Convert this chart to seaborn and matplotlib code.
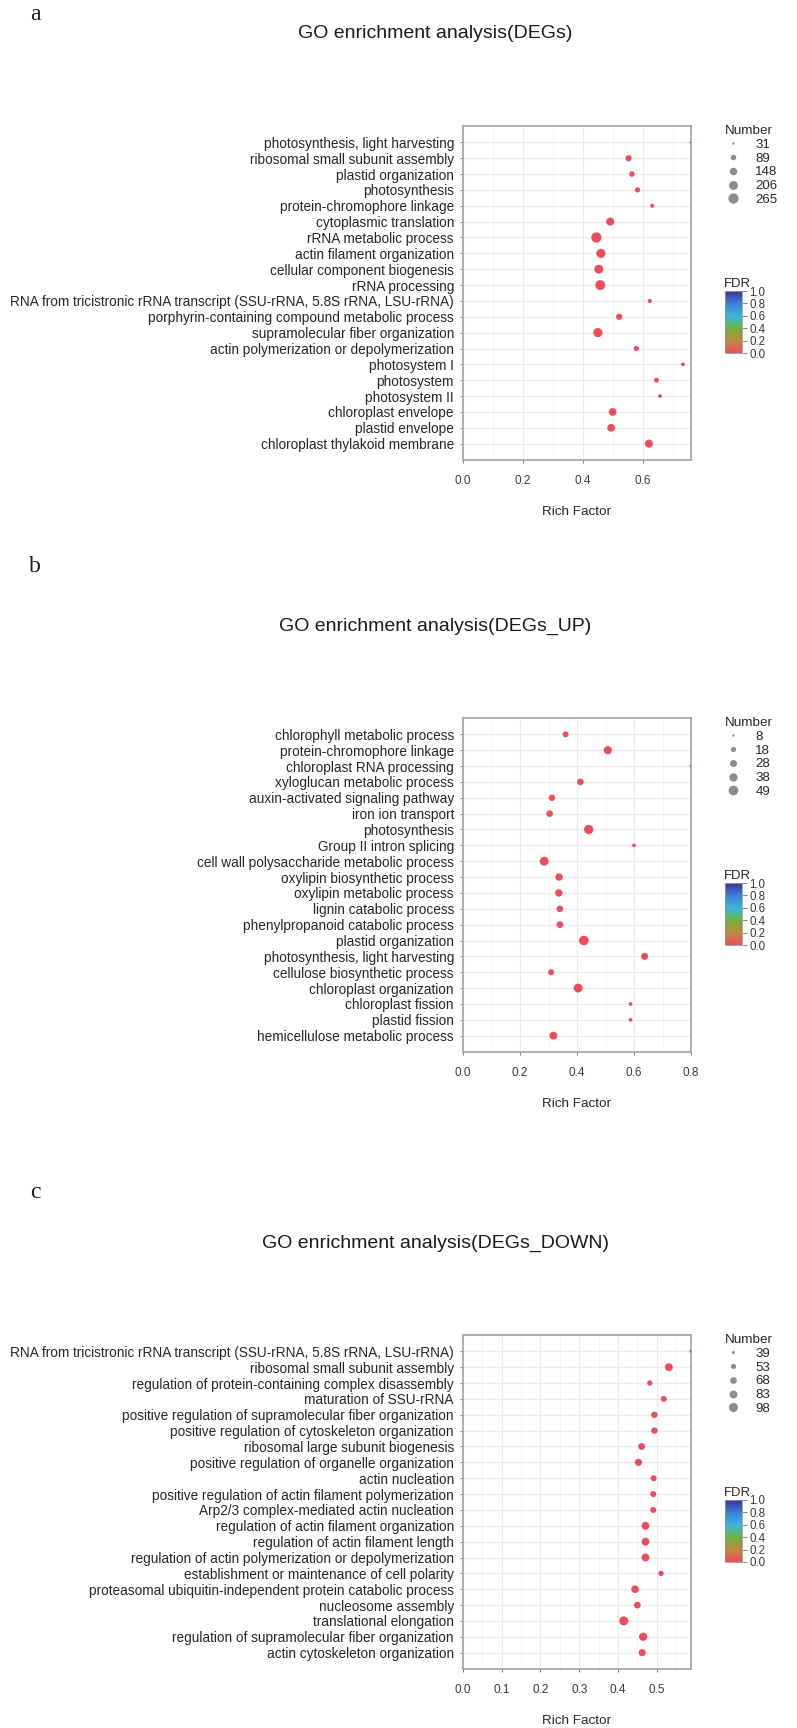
import numpy as np
import pandas as pd
import matplotlib
matplotlib.use("Agg")
import matplotlib.pyplot as plt
import seaborn as sns
from matplotlib.colors import LinearSegmentedColormap, Normalize
from matplotlib.lines import Line2D
from matplotlib.cm import ScalarMappable

# ---------------- data ----------------
a_terms = ["photosynthesis, light harvesting", "ribosomal small subunit assembly", "plastid organization",
           "photosynthesis", "protein-chromophore linkage", "cytoplasmic translation", "rRNA metabolic process",
           "actin filament organization", "cellular component biogenesis", "rRNA processing",
           "RNA from tricistronic rRNA transcript (SSU-rRNA, 5.8S rRNA, LSU-rRNA)",
           "porphyrin-containing compound metabolic process", "supramolecular fiber organization",
           "actin polymerization or depolymerization", "photosystem I", "photosystem", "photosystem II",
           "chloroplast envelope", "plastid envelope", "chloroplast thylakoid membrane"]
a_rich = [0.759, 0.551, 0.562, 0.581, 0.630, 0.490, 0.444, 0.459, 0.452, 0.457,
          0.622, 0.520, 0.449, 0.577, 0.732, 0.644, 0.656, 0.498, 0.493, 0.619]
a_number = [31, 110, 90, 81, 57, 171, 265, 215, 205, 247,
            57, 110, 215, 81, 51, 72, 51, 157, 157, 171]
a_fdr = [0.0] * 20
a_breaks = [31, 89, 148, 206, 265]
a_xticks = [0.0, 0.2, 0.4, 0.6]
a_title = "GO enrichment analysis(DEGs)"

b_terms = ["chlorophyll metabolic process", "protein-chromophore linkage", "chloroplast RNA processing",
           "xyloglucan metabolic process", "auxin-activated signaling pathway", "iron ion transport",
           "photosynthesis", "Group II intron splicing", "cell wall polysaccharide metabolic process",
           "oxylipin biosynthetic process", "oxylipin metabolic process", "lignin catabolic process",
           "phenylpropanoid catabolic process", "plastid organization", "photosynthesis, light harvesting",
           "cellulose biosynthetic process", "chloroplast organization", "chloroplast fission",
           "plastid fission", "hemicellulose metabolic process"]
b_rich = [0.360, 0.508, 0.800, 0.412, 0.312, 0.304, 0.441, 0.600, 0.285, 0.337,
          0.336, 0.340, 0.340, 0.424, 0.637, 0.309, 0.404, 0.588, 0.588, 0.317]
b_number = [22, 37, 8, 26, 24, 26, 46, 12, 43, 31,
            31, 26, 26, 49, 29, 22, 43, 12, 12, 34]
b_fdr = [0.0] * 20
b_breaks = [8, 18, 28, 38, 49]
b_xticks = [0.0, 0.2, 0.4, 0.6, 0.8]
b_title = "GO enrichment analysis(DEGs_UP)"

c_terms = ["RNA from tricistronic rRNA transcript (SSU-rRNA, 5.8S rRNA, LSU-rRNA)",
           "ribosomal small subunit assembly", "regulation of protein-containing complex disassembly",
           "maturation of SSU-rRNA", "positive regulation of supramolecular fiber organization",
           "positive regulation of cytoskeleton organization", "ribosomal large subunit biogenesis",
           "positive regulation of organelle organization", "actin nucleation",
           "positive regulation of actin filament polymerization", "Arp2/3 complex-mediated actin nucleation",
           "regulation of actin filament organization", "regulation of actin filament length",
           "regulation of actin polymerization or depolymerization",
           "establishment or maintenance of cell polarity",
           "proteasomal ubiquitin-independent protein catabolic process", "nucleosome assembly",
           "translational elongation", "regulation of supramolecular fiber organization",
           "actin cytoskeleton organization"]
c_rich = [0.5885, 0.5315, 0.482, 0.518, 0.494, 0.494, 0.461, 0.453, 0.492, 0.491,
          0.491, 0.471, 0.471, 0.471, 0.511, 0.444, 0.450, 0.415, 0.465, 0.4625]
c_number = [39, 82, 54, 61, 65, 65, 69, 73, 61, 61,
            61, 82, 82, 82, 54, 78, 69, 98, 87, 73]
c_fdr = [0.0] * 20
c_breaks = [39, 53, 68, 83, 98]
c_xticks = [0.0, 0.1, 0.2, 0.3, 0.4, 0.5]
c_title = "GO enrichment analysis(DEGs_DOWN)"

fdr_ticks = [0.0, 0.2, 0.4, 0.6, 0.8, 1.0]

# ---------------- style ----------------
sns.set_theme(style="white")
plt.rcParams["font.family"] = ["Liberation Sans", "DejaVu Sans"]

W, H = 797, 1728
fig = plt.figure(figsize=(W / 100, H / 100), dpi=100)


def rect(l, t, r, b):
    return [l / W, 1 - b / H, (r - l) / W, (b - t) / H]


fdr_cmap = LinearSegmentedColormap.from_list(
    "fdr", [(0.0, "#EE4B5B"), (0.2, "#C08A3C"), (0.4, "#6AB340"),
            (0.6, "#3CB6DA"), (0.8, "#3B80D4"), (1.0, "#3A2F98")])

TXT = "#262626"

panels = [
    dict(terms=a_terms, rich=a_rich, number=a_number, fdr=a_fdr, breaks=a_breaks, xticks=a_xticks,
         title=a_title, top=126, letter="a", letter_y=15, sizes=(3.0, 54)),
    dict(terms=b_terms, rich=b_rich, number=b_number, fdr=b_fdr, breaks=b_breaks, xticks=b_xticks,
         title=b_title, top=718, letter="b", letter_y=567, sizes=(3.0, 48)),
    dict(terms=c_terms, rich=c_rich, number=c_number, fdr=c_fdr, breaks=c_breaks, xticks=c_xticks,
         title=c_title, top=1335, letter="c", letter_y=1193, sizes=(5.0, 42)),
]

for p in panels:
    top = p["top"]
    bottom = top + 334
    ax = fig.add_axes(rect(463, top, 691, bottom))
    df = pd.DataFrame({"term": p["terms"], "rich": p["rich"], "number": p["number"], "fdr": p["fdr"]})
    sns.scatterplot(data=df, x="rich", y="term", size="number", sizes=p["sizes"],
                    size_norm=(p["breaks"][0], p["breaks"][-1]), hue="fdr", palette=fdr_cmap,
                    hue_norm=(0, 1), legend=False, linewidth=0, ax=ax, zorder=3)
    n = len(p["terms"])
    ax.set_ylim(n - 1 + 1.03, -1.03)
    xt = p["xticks"]
    ax.set_xticks(xt)
    ax.set_xticklabels([f"{t:.1f}" for t in xt])
    step = xt[1] - xt[0]
    ax.set_xticks([t + step / 2 for t in xt], minor=True)
    ax.set_xlim(0, max(p["rich"]))
    ax.grid(which="major", color="#EBEBEB", lw=0.8)
    ax.grid(which="minor", axis="x", color="#F4F4F4", lw=0.6)
    ax.set_axisbelow(True)
    for s in ax.spines.values():
        s.set_color("#A8A8A8")
        s.set_linewidth(1.3)
    ax.tick_params(axis="y", which="major", left=True, length=2.5, width=0.7, color="#777777",
                   labelsize=9.8, labelcolor=TXT, pad=4)
    ax.tick_params(axis="x", which="major", bottom=True, length=2.5, width=0.7, color="#777777",
                   labelsize=8.5, labelcolor="#3a3a3a", pad=8)
    ax.tick_params(which="minor", length=0)
    ax.set_xlabel("")
    ax.set_ylabel("")
    ax.text(0.5, -52 / 334, "Rich Factor", transform=ax.transAxes, ha="center", va="center",
            fontsize=9.7, color=TXT)

    fig.text(435 / W, 1 - (top - 92) / H, p["title"], ha="center", va="center", fontsize=14, color="#1a1a1a")
    fig.text(35 / W, 1 - p["letter_y"] / H, p["letter"], ha="center", va="center", fontsize=17,
             family=["Liberation Serif", "DejaVu Serif"], color="#1a1a1a")

    # size legend
    smin, smax = p["sizes"]
    b0, b1 = p["breaks"][0], p["breaks"][-1]
    handles = [Line2D([], [], marker="o", ls="", color="#8C8C8C", markeredgewidth=0,
                      markersize=np.sqrt(smin + (v - b0) / (b1 - b0) * (smax - smin)))
               for v in p["breaks"]]
    fig.legend(handles, [str(v) for v in p["breaks"]], title="Number", loc="upper left",
               bbox_to_anchor=(725 / W, 1 - (top - 1) / H), frameon=False, borderpad=0,
               borderaxespad=0, handlelength=1.2, handletextpad=1.1, labelspacing=0.12,
               fontsize=9.5, title_fontsize=9.7, alignment="left", labelcolor=TXT)

    # colorbar
    cax = fig.add_axes(rect(725, top + 165, 742, top + 227))
    cb = fig.colorbar(ScalarMappable(norm=Normalize(0, 1), cmap=fdr_cmap), cax=cax, ticks=fdr_ticks)
    cb.ax.set_yticklabels([f"{t:.1f}" for t in fdr_ticks])
    cb.ax.tick_params(labelsize=8.3, length=3.6, color="#888888", width=0.7, pad=1.5, labelcolor="#3a3a3a")
    cb.outline.set_edgecolor("#9a9a9a")
    cb.outline.set_linewidth(0.6)
    fig.text(724 / W, 1 - (top + 161) / H, "FDR", ha="left", va="baseline", fontsize=9.4, color=TXT)

fig.savefig("out.png", dpi=100)
